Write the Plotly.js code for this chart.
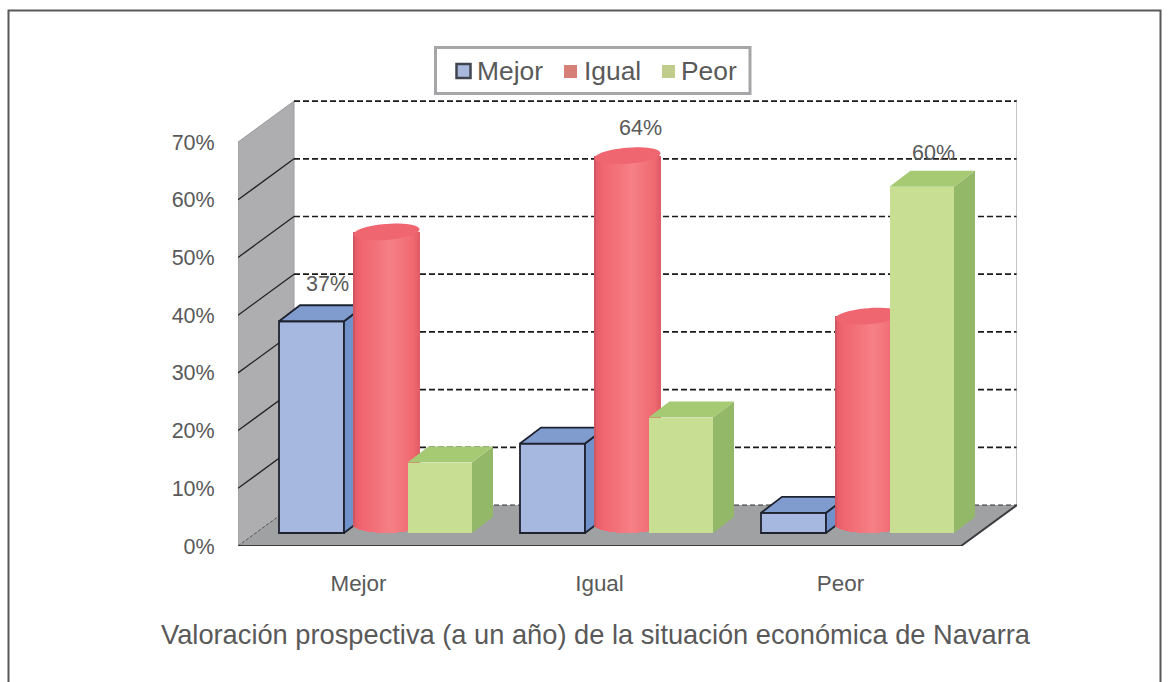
<!DOCTYPE html>
<html><head><meta charset="utf-8">
<script src="https://cdn.plot.ly/plotly-3.0.1.min.js"></script>
<style>html,body{margin:0;padding:0;background:#fff}#c{width:1169px;height:682px}</style>
</head><body><div id="c"></div>
<script>
var categories = ['Mejor', 'Igual', 'Peor'];
var seriesNames = ['Mejor', 'Igual', 'Peor'];
var mejor = [36.7, 15.5, 3.5];
var igual = [50.8, 64, 36.2];
var peor  = [12.2, 20, 60];
var yTicks = [0, 10, 20, 30, 40, 50, 60, 70];
var yTickLabels = ['0%', '10%', '20%', '30%', '40%', '50%', '60%', '70%'];
var dataLabels = ['37%', '64%', '60%'];

// pixel frame of the projected chart
var L = 238, R = 1017, B = 546, T = 100, W = 1169, H = 682;
var pxX = 241, pxY = 5.77;            // pixels per category / per percent
var ux = function (p) { return p / pxX; };
var uy = function (p) { return p / pxY; };
var xRange = [-0.5, -0.5 + (R - L) / pxX], yRange = [0, (B - T) / pxY];
var pX = function (px) { return (px - L) / (R - L); };
var pY = function (py) { return (B - py) / (B - T); };

var wallDX = ux(56), wallDY = uy(41);
var floorLift = uy(13), barW = ux(65), greenW = ux(64.5), cylW = ux(66), dx = ux(21), dy = uy(16);
var offBlue = ux(-79.5), offRed = ux(-5), offGreen = ux(49);

function polyTrace(polys, color, line, xa, ya) {
  var xs = [], ys = [];
  polys.forEach(function (p) {
    p.forEach(function (q) { xs.push(q[0]); ys.push(q[1]); });
    xs.push(p[0][0]); ys.push(p[0][1]); xs.push(null); ys.push(null);
  });
  return { type: 'scatter', mode: line ? 'lines' : 'none', x: xs, y: ys, fill: 'toself', fillcolor: color,
    line: line ? { color: line, width: 1.8 } : { width: 0 }, xaxis: xa, yaxis: ya, showlegend: false, hoverinfo: 'skip' };
}
function sides(vals, off, w) {
  return vals.map(function (v, i) {
    var x1 = i + off + w, y = floorLift + v;
    return [[x1, floorLift], [x1 + dx, floorLift + dy], [x1 + dx, y + dy], [x1, y]];
  });
}
function tops(vals, off, w) {
  return vals.map(function (v, i) {
    var x0 = i + off, x1 = x0 + w, y = floorLift + v;
    return [[x0, y], [x0 + dx, y + dy], [x1 + dx, y + dy], [x1, y]];
  });
}
function frontBar(name, vals, off, w, color, line, xa, ya) {
  return { type: 'bar', name: name, x: [0, 1, 2], y: vals, base: floorLift, offset: off, width: w,
    marker: { color: color, line: { color: line || color, width: line ? 1.8 : 0 } }, xaxis: xa, yaxis: ya,
    showlegend: false, hoverinfo: 'skip' };
}
// cylinder body as narrow bars shaded across the width
var nStrip = 33, ry = 8, tilt = 2.5;
function shade(u) {           // u in [0,1] across the cylinder
  var stops = [[0, [196, 84, 94]], [0.05, [234, 94, 106]], [0.14, [241, 102, 112]], [0.58, [245, 128, 133]], [0.92, [240, 104, 112]], [1, [224, 92, 102]]];
  for (var i = 1; i < stops.length; i++) {
    if (u <= stops[i][0]) {
      var a = stops[i - 1], b = stops[i], t = (u - a[0]) / (b[0] - a[0]);
      return 'rgb(' + a[1].map(function (c, k) { return Math.round(c + (b[1][k] - c) * t); }).join(',') + ')';
    }
  }
}
var cxs = [], cys = [], cbase = [], ccol = [], cw = [];
var cylCenter = floorLift + uy(ry);
igual.forEach(function (v, i) {
  for (var s = 0; s < nStrip; s++) {
    var u = (s + 0.5) / nStrip, c = 2 * u - 1;
    var b = cylCenter - uy(ry * Math.sqrt(1 - c * c));
    cxs.push(i + offRed + u * cylW); cbase.push(b); cys.push(cylCenter + v - b);
    ccol.push(shade(u)); cw.push(cylW / nStrip * 1.05);
  }
});
var ellipses = igual.map(function (v, i) {
  var pts = [], cx = i + offRed + cylW / 2, rx = cylW / 2;
  for (var a = 0; a < 48; a++) {
    var t = a / 48 * 2 * Math.PI;
    pts.push([cx + rx * Math.cos(t), cylCenter + v + uy(ry * Math.sin(t) + tilt * Math.cos(t))]);
  }
  return pts;
});

var traces = [
  frontBar(seriesNames[0], mejor, offBlue, barW, '#a6b8e0', '#1f2330', 'x', 'y'),
  polyTrace(sides(mejor, offBlue, barW), '#7091c9', '#1f2330', 'x', 'y'),
  polyTrace(tops(mejor, offBlue, barW), '#809ccf', '#1f2330', 'x', 'y'),
  { type: 'bar', name: seriesNames[1], x: cxs, y: cys, base: cbase, width: cw, marker: { color: ccol, line: { width: 0 } },
    xaxis: 'x2', yaxis: 'y2', showlegend: false, hoverinfo: 'skip' },
  polyTrace(ellipses, '#ef6570', null, 'x2', 'y2'),
  frontBar(seriesNames[2], peor, offGreen, greenW, '#c8de93', null, 'x3', 'y3'),
  polyTrace(sides(peor, offGreen, greenW), '#92b868', null, 'x3', 'y3'),
  polyTrace(tops(peor, offGreen, greenW), '#a6c973', null, 'x3', 'y3')
];

// walls, floor, gridlines
var shapes = [];
function path(pts) { return 'M' + pts.map(function (q) { return q[0] + ',' + q[1]; }).join('L') + 'Z'; }
var x0 = xRange[0], xF = x0 + 3, yMax = yTicks[yTicks.length - 1];
function dataShape(o) { o.layer = 'below'; o.xref = 'x'; o.yref = 'y'; return o; }
shapes.push(dataShape({ type: 'path', path: path([[x0, 0], [x0 + wallDX, wallDY], [x0 + wallDX, yMax + wallDY], [x0, yMax]]), fillcolor: '#aeaeb0', line: { color: '#9a9a9c', width: 1 } }));
shapes.push(dataShape({ type: 'path', path: path([[x0, 0], [x0 + wallDX, wallDY], [xF + wallDX, wallDY], [xF, 0]]), fillcolor: '#a0a1a3', line: { width: 0 } }));
yTicks.forEach(function (t) {
  if (t > 0) {
    shapes.push(dataShape({ type: 'line', x0: x0 + wallDX, x1: xF + wallDX, y0: t + wallDY, y1: t + wallDY, line: { color: '#1a1a1a', width: 1.7, dash: '6px,3px' } }));
    if (t < yMax) shapes.push(dataShape({ type: 'line', x0: x0, x1: x0 + wallDX, y0: t, y1: t + wallDY, line: { color: '#222', width: 1.3 } }));
  }
});
shapes.push(dataShape({ type: 'line', x0: x0 + wallDX, x1: xF + wallDX, y0: wallDY, y1: wallDY, line: { color: '#333', width: 1, dash: '5px,3px' } }));
shapes.push(dataShape({ type: 'line', x0: xF + wallDX, x1: xF + wallDX, y0: wallDY, y1: yMax + wallDY, line: { color: '#a0a0a2', width: 1.2 } }));
shapes.push(dataShape({ type: 'line', x0: x0, x1: x0 + wallDX, y0: 0, y1: wallDY, line: { color: '#555', width: 1, dash: '3px,2px' } }));
shapes.push(dataShape({ type: 'path', path: 'M' + x0 + ',0L' + xF + ',0L' + (xF + wallDX) + ',' + wallDY, fillcolor: 'rgba(0,0,0,0)', line: { color: '#3c3c40', width: 2 } }));

function paperRect(x1, y1, x2, y2, fill, line, lw) {
  return { type: 'rect', xref: 'paper', yref: 'paper', x0: pX(x1), x1: pX(x2), y0: pY(y2), y1: pY(y1), fillcolor: fill, line: { color: line || fill, width: lw || 0 } };
}
// outer frame
shapes.push({ type: 'path', layer: 'below', xref: 'paper', yref: 'paper', path: 'M' + pX(8.5) + ',' + pY(682) + 'L' + pX(8.5) + ',' + pY(10.5) + 'L' + pX(1160.5) + ',' + pY(10.5) + 'L' + pX(1160.5) + ',' + pY(682), fillcolor: 'rgba(0,0,0,0)', line: { color: '#595959', width: 2 } });
// legend box and swatches
shapes.push(paperRect(435.5, 47.5, 750, 93.5, '#ffffff', '#a6a6a8', 3));
shapes.push(paperRect(456.5, 64, 470.5, 78, '#a9b9de', '#404550', 2.5));
shapes.push(paperRect(564, 65, 577, 78, '#d67f76'));
shapes.push(paperRect(662, 65, 675, 78, '#bfcc8b'));

var annFont = { family: 'Liberation Sans, Arial, sans-serif', size: 21.5, color: '#595959' };
var annotations = [
  { x: 0 + offBlue + barW / 2, y: floorLift + mejor[0], xshift: 16, yshift: 37, text: dataLabels[0] },
  { x: 1 + offRed + cylW / 2, y: cylCenter + igual[1], xshift: 13, yshift: 28, text: dataLabels[1] },
  { x: 2 + offGreen + greenW / 2, y: floorLift + peor[2], xshift: 12, yshift: 34, text: dataLabels[2] }
].map(function (a) {
  a.xref = 'x'; a.yref = 'y'; a.showarrow = false; a.xanchor = 'center'; a.yanchor = 'middle'; a.font = annFont; return a;
});
[476.5, 583.5, 680.5].forEach(function (px, i) {
  annotations.push({ xref: 'paper', yref: 'paper', x: pX(px), y: pY(71), xanchor: 'left', yanchor: 'middle', showarrow: false, borderpad: 0, borderwidth: 0,
    text: seriesNames[i], font: { family: annFont.family, size: 26.4, color: '#595959' } });
});

function hiddenAxis(over, range) { return { range: range, overlaying: over, visible: false, fixedrange: true }; }
var layout = {
  width: W, height: H, paper_bgcolor: '#fff', plot_bgcolor: 'rgba(0,0,0,0)',
  margin: { l: L, r: W - R, t: T, b: H - B, pad: 0 }, barmode: 'overlay', bargap: 0,
  font: { family: 'Liberation Sans, Arial, sans-serif', color: '#595959' },
  title: { text: 'Valoración prospectiva (a un año) de la situación económica de Navarra', x: 595.5 / W, xref: 'container', xanchor: 'center', y: 1 - 634 / H, yref: 'container', yanchor: 'middle', font: { size: 27.25, color: '#595959' } },
  xaxis: { range: xRange, tickmode: 'array', tickvals: [0, 1, 2], ticktext: categories, showgrid: false, zeroline: false, showline: false, ticks: 'outside', ticklen: 17, tickcolor: 'rgba(0,0,0,0)', tickfont: { size: 22.4, color: '#595959' }, fixedrange: true },
  yaxis: { range: yRange, tickmode: 'array', tickvals: yTicks, ticktext: yTickLabels, showgrid: false, zeroline: false, showline: false, ticks: 'outside', ticklen: 18, tickcolor: 'rgba(0,0,0,0)', tickfont: { size: 21.5, color: '#595959' }, fixedrange: true },
  xaxis2: hiddenAxis('x', xRange), yaxis2: hiddenAxis('y', yRange),
  xaxis3: hiddenAxis('x', xRange), yaxis3: hiddenAxis('y', yRange),
  showlegend: false,
  shapes: shapes, annotations: annotations
};
Plotly.newPlot('c', traces, layout, { displayModeBar: false, staticPlot: true });
</script></body></html>
